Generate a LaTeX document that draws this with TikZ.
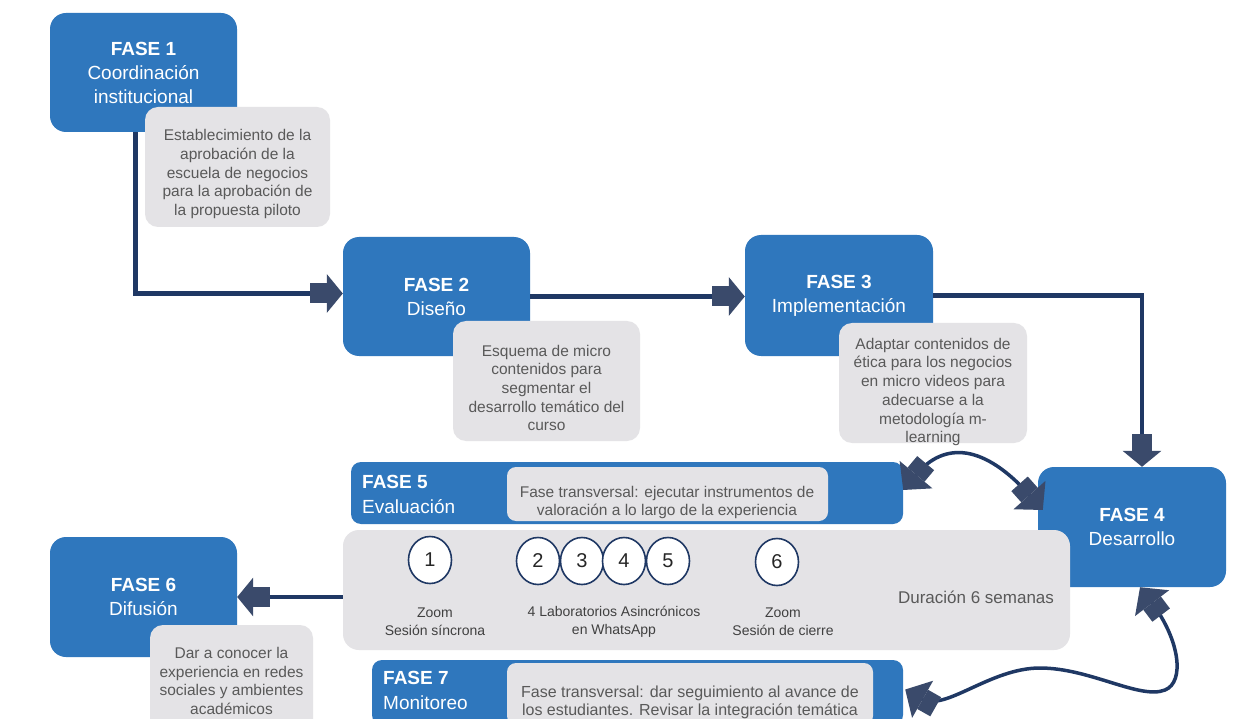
\documentclass[tikz,border=0pt]{standalone}
\usepackage{fontspec}
\setmainfont{Liberation Sans}
\usetikzlibrary{arrows.meta,calc,shapes.geometric}
\definecolor{fblue}{HTML}{2F77BD}
\definecolor{fgray}{HTML}{E4E3E6}
\definecolor{tgray}{HTML}{595959}
\definecolor{navy}{HTML}{1F3864}
\definecolor{headc}{HTML}{3A4A6B}
\tikzset{
  phase/.style={fill=fblue, rounded corners=16pt, text=white, align=center, inner sep=0pt, font=\fontsize{19}{24}\selectfont},
  bar/.style={fill=fblue, rounded corners=10pt, inner sep=0pt},
  gbox/.style={fill=fgray, rounded corners=13pt, inner sep=0pt},
  ibox/.style={fill=fgray, rounded corners=9pt, inner sep=0pt},
  gtext/.style={text=tgray, align=center, inner sep=0pt, font=\fontsize{15.5}{18.7}\selectfont},
  btext/.style={text=white, align=left, inner sep=0pt, anchor=west, font=\fontsize{19}{24.5}\selectfont},
  num/.style={ellipse, draw=navy, line width=1.6pt, fill=white, minimum width=43pt, minimum height=47pt, inner sep=0pt, text=black!85, font=\fontsize{20}{24}\selectfont},
  lab/.style={text=black!75, align=center, inner sep=0pt, font=\fontsize{14}{18}\selectfont},
  conn/.style={draw=navy, line width=4.5pt},
  conn2/.style={draw=navy, line width=3.5pt},
  tipend/.style={-{Rectangle[length=17pt,width=20pt,color=headc]Triangle[length=16pt,width=38pt,color=headc]}},
  tipboth/.style={{Triangle[length=20pt,width=42pt,color=headc]Rectangle[length=15pt,width=22pt,color=headc]}-{Rectangle[length=15pt,width=22pt,color=headc]Triangle[length=20pt,width=42pt,color=headc]}}
}
\begin{document}
\begin{tikzpicture}[x=1pt,y=-1pt]
\useasboundingbox (0,0) rectangle (1237,719);
\clip (0,0) rectangle (1237,719);
\fill[white] (0,0) rectangle (1237,719);

% FASE 1
\node[phase, minimum width=187pt, minimum height=119pt] (f1) at (143.5,72.5) {\textbf{FASE 1}\\Coordinación\\institucional};
\node[gbox, minimum width=185pt, minimum height=120pt] (g1) at (237.5,167) {};
\node[gtext] (g1t) at (237.5,174) {Establecimiento de la\\aprobación de la\\escuela de negocios\\para la aprobación de\\la propuesta piloto};

% FASE 2
\node[phase, minimum width=187pt, minimum height=119pt] (f2) at (436.5,296.5) {\textbf{FASE 2}\\Diseño};
\node[gbox, minimum width=187pt, minimum height=120pt] (g2) at (546.5,381) {};
\node[gtext] (g2t) at (546.5,388) {Esquema de micro\\contenidos para\\segmentar el\\desarrollo temático del\\curso};

% FASE 3
\node[phase, minimum width=188pt, minimum height=121pt] (f3) at (839,295.5) {\textbf{FASE 3}\\Implementación};
\node[gbox, minimum width=188pt, minimum height=120pt] (g3) at (933,383) {};
\node[gtext] (g3t) at (933,392) {Adaptar contenidos de\\ética para los negocios\\en micro videos para\\adecuarse a la\\metodología m-\\learning};

% FASE 4
\node[phase, minimum width=188pt, minimum height=120pt] (f4) at (1132,527) {\textbf{FASE 4}\\Desarrollo};

% FASE 5
\node[bar, minimum width=552pt, minimum height=62pt] (f5) at (627,493) {};
\node[ibox, minimum width=321pt, minimum height=54pt] (g5) at (667.5,494) {};
\node[btext] (f5t) at (362,494.5) {\textbf{FASE 5}\\Evaluación};
\node[gtext, font=\fontsize{15.5}{18}\selectfont] (g5t) at (667,502) {Fase transversal: ejecutar instrumentos de\\valoración a lo largo de la experiencia};

% band
\node[gbox, rounded corners=16pt, minimum width=727pt, minimum height=120pt] (band) at (706.5,590) {};
\node[num] (n1) at (430,560) {1};
\node[num] (n2) at (538,561) {2};
\node[num] (n3) at (582,561) {3};
\node[num] (n4) at (624,561) {4};
\node[num] (n5) at (668,561) {5};
\node[num] (n6) at (777,562) {6};
\node[lab] (l1) at (435,622) {Zoom\\Sesión síncrona};
\node[lab] (l2) at (614,622) {4 Laboratorios Asincrónicos\\en WhatsApp};
\node[lab] (l3) at (783,622) {Zoom\\Sesión de cierre};
\node[text=tgray, inner sep=0pt, font=\fontsize{17}{20}\selectfont] (dur) at (976,597) {Duración 6 semanas};

% FASE 6
\node[phase, minimum width=187pt, minimum height=120pt] (f6) at (143.5,597) {\textbf{FASE 6}\\Difusión};
\node[gbox, minimum width=163pt, minimum height=115pt] (g6) at (231.5,682.5) {};
\node[gtext] (g6t) at (231.5,681) {Dar a conocer la\\experiencia en redes\\sociales y ambientes\\académicos};

% FASE 7
\node[bar, minimum width=531pt, minimum height=65pt] (f7) at (637.5,692.5) {};
\node[ibox, minimum width=366pt, minimum height=62pt] (g7) at (690,694) {};
\node[btext] (f7t) at (383,690.5) {\textbf{FASE 7}\\Monitoreo};
\node[gtext, font=\fontsize{16}{18}\selectfont] (g7t) at (690,702) {Fase transversal: dar seguimiento al avance de\\los estudiantes. Revisar la integración temática};

% connectors
\draw[conn,tipend] ([xshift=-8pt]f1.south) |- ([yshift=3pt]f2.west);
\draw[conn,tipend] (f2.east) -- (f2.east -| f3.west);
\draw[conn,tipend] (f3.east) -| ([xshift=10pt]f4.north);
\draw[conn,tipend] (f6.east -| band.west) -- (f6.east);
\draw[conn2,tipboth] ([yshift=3pt]f5.east) .. controls (945,440) and (985,445) .. ([xshift=5pt,yshift=17pt]f4.west);
\draw[conn2,tipboth] ([xshift=2pt,yshift=3pt]f7.east) .. controls (945,712) and (990,668) .. (1040,668)
   .. controls (1090,668) and (1140,700) .. (1165,690)
   .. controls (1185,682) and (1180,640) .. ([xshift=8pt]f4.south);
\end{tikzpicture}
\end{document}
